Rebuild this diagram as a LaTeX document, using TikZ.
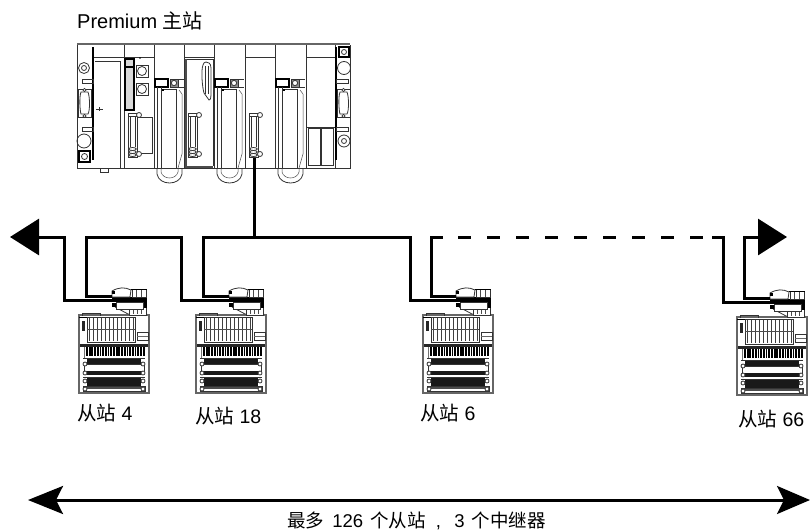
\documentclass[tikz,border=0pt]{standalone}
\usepackage{fontspec}
\setmainfont{Liberation Sans}
\newfontfamily\cjk{Noto Sans CJK SC}
\usetikzlibrary{arrows.meta}
\tikzset{
  x=1pt,y=-1pt,
  cable/.style={line width=3pt,black,line join=miter},
  hw/.style={line width=0.8pt,black!80},
  hwthin/.style={line width=0.5pt,black!70},
  lbl/.style={inner sep=0pt,font=\fontsize{19.5}{22}\selectfont},
  bighead/.style={-{Triangle[length=29pt,width=36pt]}},
  exthead/.style={{Stealth[length=35pt,width=28pt,inset=7pt]}-{Stealth[length=33pt,width=28pt,inset=7pt]}},
  pics/slave/.style={code={
    % main outline
    \draw[line width=1.2pt,black!60] (0,0) rectangle (70,78);
    % top socket row
    \draw[hw] (3,1) -- (3,-2) -- (21,-2) -- (21,1);
    \fill[black] (0,3) rectangle (8,1.5);
    \fill[black!85] (3,6) rectangle (6,16);
    % io module with vertical lines
    \draw[hw,fill=white] (8,2) rectangle (56,27);
    \foreach \i in {0,...,11}{\draw[line width=0.7pt,black!75] (10+\i*4,3) -- (10+\i*4,26);}
    \draw[hwthin] (8,14) -- (56,14);
    \draw[hw] (58,17) rectangle (69,25);
    \fill[black!60] (58,20.5) rectangle (69,22);
    % terminal band
    \fill[black!85] (1,29) rectangle (69,32);
    \foreach \i in {0,...,21}{\fill[black] (7+\i*2.7,32) rectangle (8.8+\i*2.7,41);}
    \fill[black!55] (5,32) rectangle (6,43);
    \draw[hw] (4,43.5) -- (66,43.5);
    % terminal strips
    \fill[black!90] (8,44) rectangle (62,49);
    \draw[hw] (5,49) rectangle (65,56);
    \fill[black!90] (8,56) rectangle (62,60);
    \draw[hw] (4,62) -- (66,62);
    \fill[black!90] (8,63) rectangle (62,71);
    \draw[hw] (4,71) rectangle (66,76);
    \fill[black!70] (8,72) rectangle (62,73.5);
    \foreach \yy in {49,58,66,74}{
      \draw[hw,fill=white] (6,\yy) circle (2);
      \draw[hw,fill=white] (64,\yy) circle (2);}
    % connector
    \draw[hw] (36,-8) -- (49,-1) -- (68,-1);
    \draw[hw,fill=white] (50,-8) rectangle (67,0);
    \fill[black] (50,-9) rectangle (67,-7);
    \foreach \xx in {54,58,62}{\fill[black!70] (\xx,-7) rectangle (\xx+1.2,-1);}
    \fill[black] (33,-18) rectangle (68,-13);
    \fill[black] (68,-22) rectangle (64,-7);
    \draw[hw,fill=white] (37,-13) rectangle (64,-6);
    \draw[hw,fill=white] (33,-24) .. controls (40,-28) and (46,-28) .. (52,-25) -- (51,-18) -- (33,-18) -- cycle;
    \draw[hw,fill=white] (53,-25.5) rectangle (67,-18);
    \fill[black] (52,-26.5) rectangle (68,-25);
    \draw[hwthin] (57,-25) -- (57,-18) (62,-25) -- (62,-18);
    \fill[black] (33,-24) rectangle (36,-21);
    \fill[black] (33,-12) rectangle (37,-8);
    \coordinate (-outer) at (33,-15);
    \coordinate (-inner) at (33,-19);
  }},
  pics/subd/.style={code={
    \draw[hw,fill=white] (0,0) -- (9,0) -- (9,44) -- (0,44) -- cycle;
    \draw[hw] (2.5,3) -- (2.5,34) (7,3) -- (7,34);
    \draw[hw] (0,3) -- (9,3);
    \draw[hw,fill=white] (11,2) circle (2.5);
    \draw[hw,fill=white] (11,41) circle (2.5);
    \foreach \yy in {36,39,42}{\draw[hw,fill=white] (4.5,\yy) ellipse (3.8 and 1.5);}
  }},
  pics/dbfree/.style={code={
    \draw[hw,fill=white] (2,3) .. controls (0,8) and (1,24) .. (3,31) -- (8,38) .. controls (10,38) and (10,34) .. (10,30) -- (10,6) .. controls (10,1) and (7,0) .. (5,0) .. controls (3,0) and (3,1) .. (2,3) -- cycle;
    \draw[hw] (4,4) -- (4,32) (7.5,4) -- (7.5,32);
  }},
  pics/dbp/.style={code={
    \draw[hw,fill=white] (0,0) rectangle (13,28);
    \draw[hw,fill=white] (3,3) .. controls (1,8) and (2,22) .. (3,25) -- (10,25) .. controls (12,22) and (12,8) .. (10,3) -- cycle;
    \draw[hw,fill=white] (6.5,1) circle (1.6);
    \draw[hw,fill=white] (6.5,27) circle (1.6);
  }},
  pics/ioslot/.style={code={
    % local origin at module top left (x 155, y 46)
    \draw[line width=1.2pt,black,fill=white] (0,33) rectangle (13,41);
    \draw[hw,fill=black!45] (15,33) rectangle (23,41);
    \draw[hw,fill=white] (19,37) circle (2.6);
    \draw[hw] (23,33) -- (29,33) (23,41) -- (29,41);
    \draw[hw] (2,41) -- (2,122) (6,41) -- (6,122);
    \draw[hw] (6,43) -- (21,43) -- (21,122);
    \fill[black] (7,43) rectangle (9,45);
    \draw[hwthin] (27,48) -- (27,108) -- (23,122);
    \draw[hwthin] (24,44) -- (27,48);
    \draw[hw] (2,122) -- (2,128) .. controls (4,140) and (25,140) .. (27,128) -- (27,122);
    \draw[hwthin] (6,122) -- (6,126) .. controls (8,134) and (21,134) .. (23,126) -- (23,122);
  }}
}
\begin{document}
\begin{tikzpicture}
\useasboundingbox (0,0) rectangle (810,530);
\fill[white] (0,0) rectangle (810,530);

% ---- master rack
\node[lbl,anchor=base west,font=\fontsize{20}{24}\selectfont] (mastertitle) at (77,28) {Premium {\cjk 主站}};
\draw[line width=2pt,black!60] (77,44) -- (350,44);
\draw[hw] (77,45) -- (77,168) -- (350,168) -- (350,45);
\foreach \xx in {124,154,184,214,245,275,306,335}{\draw[hw] (\xx,45) -- (\xx,168);}
\draw[hw] (94,57) -- (154,57);
\draw[hw] (184,57) -- (214,57) (245,57) -- (275,57) (306,57) -- (335,57);
\draw[line width=1.6pt,black] (93,47) -- (93,160);
\draw[line width=1.6pt,black] (336,47) -- (336,160);
% left plate
\draw[hw] (84,68) circle (5.5); \draw[hw] (84,68) circle (2.5);
\draw[hw] (82,79) rectangle (93,83);
\pic at (78,89) {dbp};
\draw[hw] (82,127) rectangle (93,131);
\draw[hw] (84,141) circle (7);
\draw[line width=1.2pt,black] (79,151) rectangle (90,162);
\draw[hw] (84.5,156.5) circle (3);
% power supply
\draw[hw] (95,61) -- (120,61) -- (120,168);
\draw[hw] (96,109) -- (103,109) (99,107) -- (99,111);
\draw[hw] (100,168) -- (100,172) -- (108,172) -- (108,168);
% module 2
\draw[line width=1.2pt,black,fill=black!15] (125,59) rectangle (134,110);
\draw[line width=1.2pt,black] (125,67) -- (134,67);
\draw[hw] (136,65) rectangle (148,77); \draw[hw] (142,71) circle (4.5);
\draw[hw] (136,83) rectangle (148,95); \draw[hw] (142,89) circle (4.5);
\fill[black] (140,58) circle (0.9);
\draw[hw] (134,117) rectangle (152,153);
\pic at (128,113) {subd};
% io slots
\pic at (155,46) {ioslot};
\pic at (215,46) {ioslot};
\pic at (276,46) {ioslot};
% communication module 4
\draw[hw] (186,59) -- (213,59) -- (213,166);
\draw[line width=1.2pt,black!70] (186,59) -- (186,167) -- (213,167);
\pic at (201,62) {dbfree};
\pic at (188,113) {subd};
% module 6
\pic (plcport) at (249,113) {subd};
\coordinate (tap) at (254,158);
% module 8
\draw[hw] (308,128) rectangle (320,165);
\draw[hw] (321,128) rectangle (333,165);
\draw[hw] (306,127) -- (335,127);
% right plate
\draw[line width=1.2pt,black] (339,47) rectangle (349,57);
\draw[hw] (344,52) circle (2.5);
\draw[hw] (344,68) circle (6.5);
\draw[hw] (336,79) rectangle (348,83);
\pic at (337,89) {dbp};
\draw[hw] (336,127) rectangle (348,131);
\draw[hw] (344,141) circle (6); \draw[hw] (344,141) circle (2.5);

% ---- slaves
\pic (sA) at (79,315) {slave};
\pic (sB) at (196,315) {slave};
\pic (sC) at (423,315) {slave};
\pic (sD) at (737,317) {slave};

\node[lbl,anchor=base west] (lA) at (77,420) {{\cjk 从站} 4};
\node[lbl,anchor=base west] (lB) at (195,423) {{\cjk 从站} 18};
\node[lbl,anchor=base west] (lC) at (420,420) {{\cjk 从站} 6};
\node[lbl,anchor=base west] (lD) at (738,426) {{\cjk 从站} 66};

% ---- bus
\coordinate (tipL) at (10,237);
\coordinate (tipR) at (787,237);
\coordinate (busT) at (254,237);
\draw[cable] (tap) -- (busT);
\draw[cable,bighead] (sA-outer) -| (64,237) -- (tipL);
\draw[cable] (sA-inner) -| (86,237) -- (181,237) |- (sB-outer);
\draw[cable] (sB-inner) -| (203,237) -- (410,237) |- (sC-outer);
\draw[cable] (sC-inner) -| (431,237) -- (443,237);
\draw[cable,dash pattern=on 13pt off 16pt] (458,237) -- (703,237);
\draw[cable] (712,237) -- (723,237) |- (sD-outer);
\draw[cable,bighead] (sD-inner) -| (744,237) -- (tipR);

% ---- extent arrow
\coordinate (extL) at (28,500);
\coordinate (extR) at (810,500);
\draw[line width=3pt,exthead] (extL) -- (extR);
\node[lbl,anchor=base west,font=\fontsize{18.5}{22}\selectfont] (extlbl) at (287,527) {{\cjk 最多}\hspace{3pt} 126\hspace{2pt} {\cjk 个从站}\hspace{5pt} ,\hspace{8pt} 3\hspace{2pt} {\cjk 个中继器}};
\end{tikzpicture}
\end{document}
